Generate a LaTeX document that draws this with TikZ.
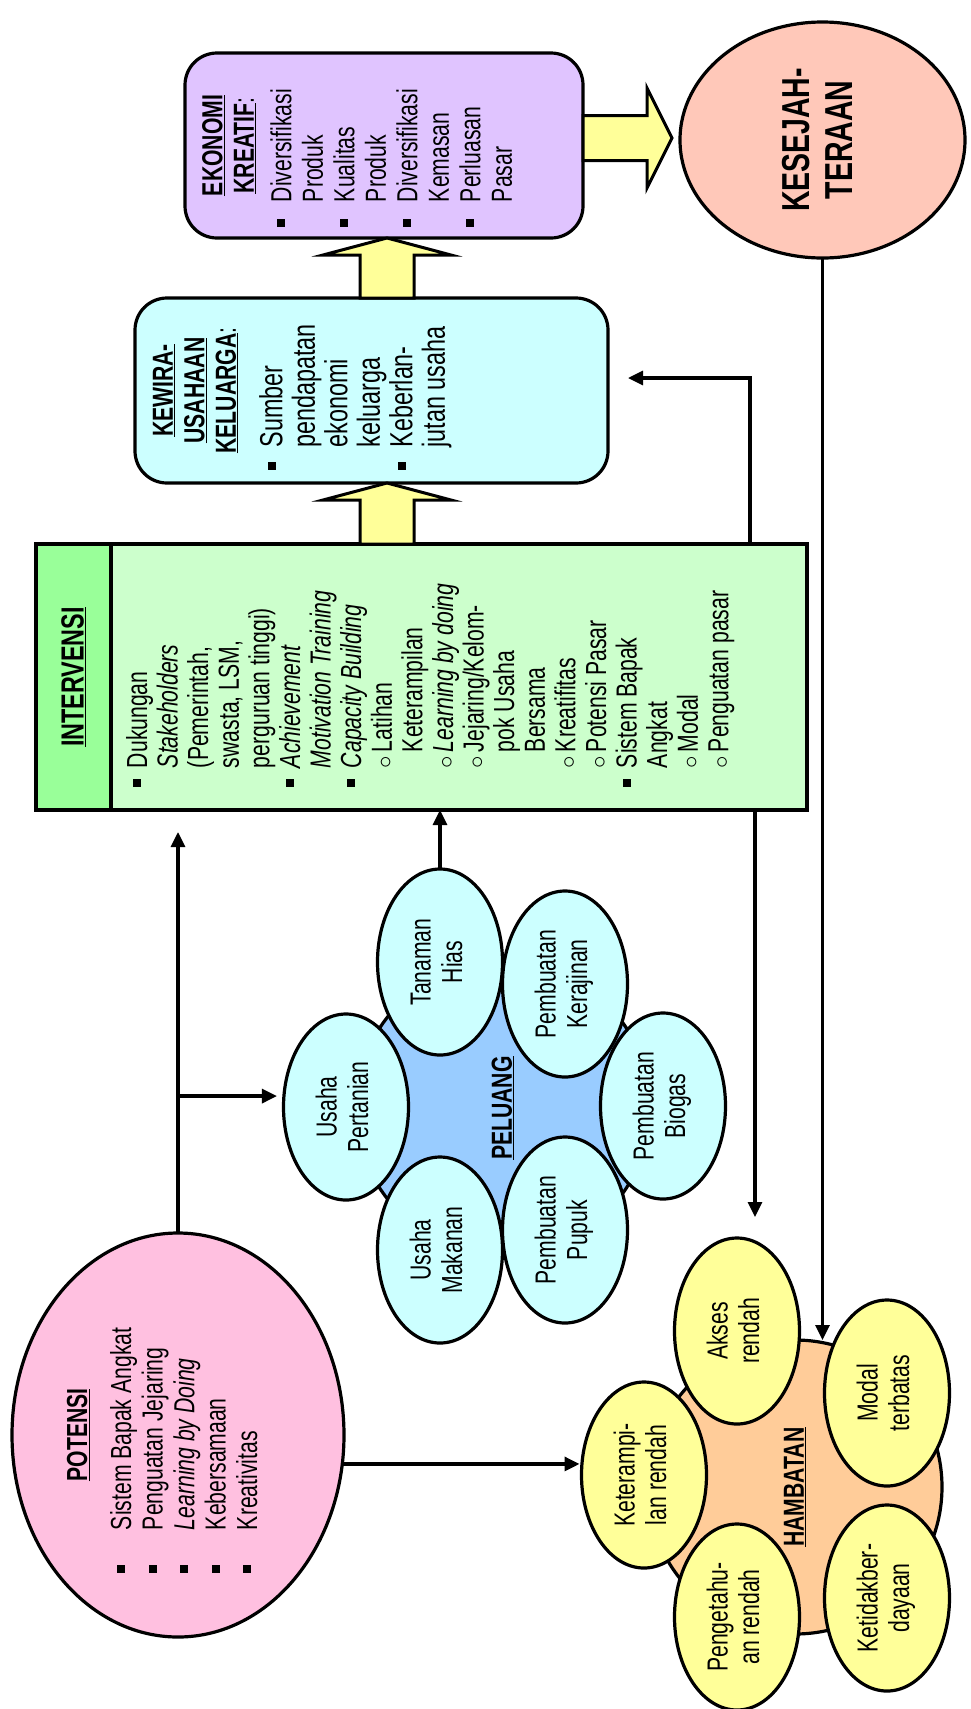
\documentclass[tikz,border=0pt]{standalone}
\usepackage{fontspec}
\setmainfont{Liberation Sans}[FakeStretch=0.73]
\usepackage{graphicx}
\usetikzlibrary{arrows.meta, calc, positioning, shapes.geometric}

\definecolor{potensipink}{RGB}{255,192,224}
\definecolor{petalcyan}{RGB}{204,255,255}
\definecolor{peluangblue}{RGB}{153,204,255}
\definecolor{intervgreen}{RGB}{204,255,204}
\definecolor{intervstrip}{RGB}{153,255,153}
\definecolor{kreatiflilac}{RGB}{224,196,255}
\definecolor{sejahterasalmon}{RGB}{255,200,185}
\definecolor{hambatanorange}{RGB}{255,204,153}
\definecolor{petalyellow}{RGB}{255,255,153}

\newcommand{\sqblt}[1]{\makebox[#1][l]{\raisebox{6pt}{\rule{8pt}{8pt}}}}
\newcommand{\cirblt}{\makebox[16pt][l]{$\circ$}}
\newcommand{\twoline}[2]{\rotatebox{90}{\begin{tabular}{@{}c@{}}#1\\#2\end{tabular}}}

\begin{document}
\begin{tikzpicture}[x=1pt, y=-1pt,
    every node/.style={inner sep=0pt, outer sep=0pt, line width=3.2pt,
        font=\fontsize{29}{31.5}\selectfont},
    arr/.style={line width=3.2pt, -{Triangle[length=15pt, width=14pt]}},
    blockarr/.style={draw, line width=3pt, fill=petalyellow, line join=miter},
    petal/.style={ellipse, draw, minimum width=125pt, minimum height=186pt},
    roundbox/.style={rectangle, rounded corners=32pt, draw}]
    \useasboundingbox (0,0) rectangle (970,1709);

    % Potensi
    \node[ellipse, draw, fill=potensipink, minimum width=332pt, minimum height=404pt] (potensi) at (178,1435)
        {\rotatebox{90}{\parbox[c][228pt][t]{280pt}{\vspace*{3pt}\centering\underline{\textbf{POTENSI}}\par
        \vspace{12.5pt}\raggedright\leftskip=2pt
        \sqblt{43pt}Sistem Bapak Angkat\\
        \sqblt{43pt}Penguatan Jejaring\\
        \sqblt{43pt}\textit{Learning by Doing}\\
        \sqblt{43pt}Kebersamaan\\
        \sqblt{43pt}Kreativitas}}};

    % Intervensi
    \node[draw, fill=intervstrip, line width=4pt, minimum width=75pt, minimum height=266pt] (intervtitle) at (73.5,677)
        {\rotatebox{90}{\fontsize{32}{35}\selectfont\underline{\textbf{INTERVENSI}}}};
    \node[draw, fill=intervgreen, line width=4pt, minimum width=696pt, minimum height=266pt, right=0pt of intervtitle] (interv)
        {\rotatebox{90}{\parbox[c][690pt][t]{260pt}{\fontsize{29}{30.6}\selectfont\vspace*{12pt}\raggedright\leftskip=20pt
        \sqblt{19pt}Dukungan\\
        \hspace*{19pt}\textit{Stakeholders}\\
        \hspace*{19pt}(Pemerintah,\\
        \hspace*{19pt}swasta, LSM,\\
        \hspace*{19pt}perguruan tinggi)\\
        \sqblt{19pt}\textit{Achievement}\\
        \hspace*{19pt}\textit{Motivation Training}\\
        \sqblt{19pt}\textit{Capacity Building}\\
        \hspace*{19pt}\cirblt Latihan\\
        \hspace*{35pt}Keterampilan\\
        \hspace*{19pt}\cirblt\textit{Learning by doing}\\
        \hspace*{19pt}\cirblt Jejaring/Kelom-\\
        \hspace*{35pt}pok Usaha\\
        \hspace*{35pt}Bersama\\
        \hspace*{19pt}\cirblt Kreatifitas\\
        \hspace*{19pt}\cirblt Potensi Pasar\\
        \sqblt{19pt}Sistem Bapak\\
        \hspace*{19pt}Angkat\\
        \hspace*{19pt}\cirblt Modal\\
        \hspace*{19pt}\cirblt Penguatan pasar}}};

    % Kewirausahaan keluarga
    \node[roundbox, fill=petalcyan, minimum width=473pt, minimum height=185pt] (kewira) at (371.5,390.5)
        {\rotatebox{90}{\parbox[c][467pt][t]{179pt}{\vspace*{15pt}\centering
        \underline{\textbf{KEWIRA-}}\\
        \underline{\textbf{USAHAAN}}\\
        \underline{\textbf{KELUARGA}}:\par
        \vspace{14pt}\raggedright\leftskip=10.5pt\fontsize{32}{32.5}\selectfont
        \sqblt{22pt}Sumber\\
        \hspace*{22pt}pendapatan\\
        \hspace*{22pt}ekonomi\\
        \hspace*{22pt}keluarga\\
        \sqblt{22pt}Keberlan-\\
        \hspace*{22pt}jutan usaha}}};

    % Ekonomi kreatif
    \node[roundbox, fill=kreatiflilac, minimum width=398pt, minimum height=185pt] (ekonomi) at (384,145.5)
        {\rotatebox{90}{\parbox[c][392pt][t]{179pt}{\vspace*{14pt}\centering
        \underline{\textbf{EKONOMI}}\\
        \underline{\textbf{KREATIF}}:\par
        \vspace{6pt}\raggedright\leftskip=8pt
        \sqblt{25pt}Diversifikasi\\
        \hspace*{25pt}Produk\\
        \sqblt{25pt}Kualitas\\
        \hspace*{25pt}Produk\\
        \sqblt{25pt}Diversifikasi\\
        \hspace*{25pt}Kemasan\\
        \sqblt{25pt}Perluasan\\
        \hspace*{25pt}Pasar}}};

    % Kesejahteraan
    \node[ellipse, draw, fill=sejahterasalmon, minimum width=285pt, minimum height=236pt] (kesej) at (822.5,140)
        {\rotatebox{90}{\fontsize{39}{43}\selectfont\bfseries
        \begin{tabular}{@{}c@{}}KESEJAH-\\TERAAN\end{tabular}}};

    % Peluang
    \node[circle, draw, fill=peluangblue, minimum size=294pt] (peluang) at (503,1108)
        {\rotatebox{90}{\underline{\textbf{PELUANG}}}};
    \node[petal, fill=petalcyan] (tanaman) at (440,962) {\twoline{Tanaman}{Hias}};
    \node[petal, fill=petalcyan] (kerajinan) at (565,984) {\twoline{Pembuatan}{Kerajinan}};
    \node[petal, fill=petalcyan] (pertanian) at (346,1107) {\twoline{Usaha}{Pertanian}};
    \node[petal, fill=petalcyan] (biogas) at (663,1106) {\twoline{Pembuatan}{Biogas}};
    \node[petal, fill=petalcyan] (makanan) at (440,1250) {\twoline{Usaha}{Makanan}};
    \node[petal, fill=petalcyan] (pupuk) at (565,1230) {\twoline{Pembuatan}{Pupuk}};

    % Hambatan
    \node[circle, draw, fill=hambatanorange, minimum size=294pt] (hambatan) at (795,1487)
        {\rotatebox{90}{\underline{\textbf{HAMBATAN}}}};
    \node[petal, fill=petalyellow] (akses) at (737,1331) {\twoline{Akses}{rendah}};
    \node[petal, fill=petalyellow] (keter) at (644,1475) {\twoline{Keterampi-}{lan rendah}};
    \node[petal, fill=petalyellow] (modal) at (887,1393) {\twoline{Modal}{terbatas}};
    \node[petal, fill=petalyellow] (tahu) at (737,1617) {\twoline{Pengetahu-}{an rendah}};
    \node[petal, fill=petalyellow] (daya) at (887,1598) {\twoline{Ketidakber-}{dayaan}};

    % Block arrows
    \coordinate (bshaft) at (387,0);
    \coordinate (hshaft) at (0,138);
    \draw[blockarr] ($(bshaft |- interv.north)+(-27,0)$) -- ($(bshaft |- kewira.south)+(-27,17)$) -- ++(-37,0)
        -- (bshaft |- kewira.south) -- ++(64,17) -- ++(-37,0) -- ($(bshaft |- interv.north)+(27,0)$) -- cycle;
    \draw[blockarr] ($(bshaft |- kewira.north)+(-27,0)$) -- ($(bshaft |- ekonomi.south)+(-27,17)$) -- ++(-37,0)
        -- (bshaft |- ekonomi.south) -- ++(64,17) -- ++(-37,0) -- ($(bshaft |- kewira.north)+(27,0)$) -- cycle;
    \draw[blockarr] ($(ekonomi.east |- hshaft)+(0,-22.5)$) -- ($(kesej.west |- hshaft)+(-33,-22.5)$) -- ++(0,-27.5)
        -- ($(kesej.west |- hshaft)+(-8,0)$) -- ++(-25,50) -- ++(0,-27.5) -- ($(ekonomi.east |- hshaft)+(0,22.5)$) -- cycle;

    % Connectors
    \coordinate (kwbend) at (750,378);
    \coordinate (hbdrop) at (755,0);
    \draw[arr, shorten >=22pt] (potensi.north) -- (potensi.north |- interv.south);
    \draw[arr, shorten >=7pt] (potensi.north |- pertanian.170) -- (pertanian.170);
    \draw[arr, shorten >=2pt] (potensi.-10) -- (potensi.-10 -| keter.west);
    \draw[arr] (tanaman.north) -- (tanaman.north |- interv.south);
    \draw[arr, shorten >=20pt] (kwbend |- interv.north) -- (kwbend) -- (kwbend -| kewira.east);
    \draw[arr, shorten >=21pt] (hbdrop |- interv.south) -- (hbdrop |- akses.north);
    \draw[arr] (kesej.south) -- (kesej.south |- hambatan.north);
\end{tikzpicture}
\end{document}
